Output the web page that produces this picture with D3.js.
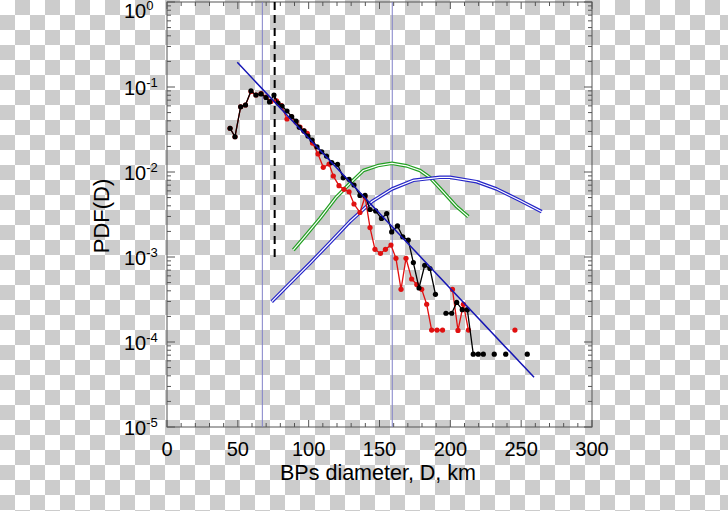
<!DOCTYPE html>
<html>
<head>
<meta charset="utf-8">
<script src="https://cdn.jsdelivr.net/npm/d3@7"></script>
<style>
  body { margin: 0; }
  svg { display: block; font-family: "Liberation Sans", Arial, sans-serif; }
</style>
</head>
<body>
<div class="container"></div>
<script>
// binned size distribution, black sample
var blackD = [44.5,48.0,52.0,55.4,59.3,62.8,66.4,69.9,72.4,75.5,78.4,81.2,84.7,88.0,91.1,93.4,96.7,99.5,102.4,105.9,
  109.2,112.6,116.3,120.4,124.4,128.5,132.0,136.2,139.8,143.3,147.3,151.4,155.1,158.6,162.7,166.4,170.3,173.9,177.9,181.9,
  185.6,189.5,193.2,196.9,201.0,204.5,208.4,212.0,216.2,219.7,223.3,227.0,231.0,235.0,239.1,243.0,254.3];
var blackPdf = [0.0327,0.026,0.0586,0.0614,0.0904,0.0805,0.0828,0.0752,0.0667,0.0805,0.0648,0.0598,0.0522,0.0448,0.0398,0.0336,0.0304,0.0265,0.0238,0.0197,
  0.0173,0.0154,0.0129,0.0123,0.00855,0.0082,0.00703,0.0053,0.0053,0.00362,0.00348,0.00284,0.00325,0.00197,0.00232,0.00173,0.00158,0.00086,0.000432,0.000798,
  0.000732,0.000364,null,0.000218,0.000218,0.000292,0.00024,0.00024,7.2e-5,7.2e-5,7.2e-5,null,7.2e-5,null,7.2e-5,null,7.2e-5];

// red sample
var redD = [44.5,48.0,52.0,55.4,59.3,62.8,66.4,69.9,73.4,77.3,80.8,84.7,87.9,91.1,93.9,96.7,99.0,102.7,106.6,110.3,
  114.4,117.4,121.4,124.9,128.5,132.0,136.2,139.8,143.3,146.8,150.7,154.2,158.1,161.6,165.2,168.7,172.7,176.3,179.8,183.3,
  186.8,190.6,194.5,198.2,201.5,205.4,209.2,212.8,216.5,242.0,245.6];
var redPdf = [0.0327,0.026,0.0586,0.0614,0.0885,0.0805,0.0839,0.0763,0.0676,0.0685,0.0606,0.042,0.0444,0.0388,0.0338,0.0304,0.0285,0.0219,0.0163,0.01136,
  0.0124,0.00897,0.0069,0.00625,0.00586,0.0042,0.00334,0.00512,0.00222,0.00123,0.0011,0.00123,0.00138,0.000966,0.000417,0.000966,0.000551,0.000474,0.000417,0.000278,
  0.000138,0.000138,0.000138,null,0.000415,0.000137,0.000278,0.000138,null,null,0.000138];

// exponential fit (straight blue line)
var fitD = [49.6, 259.1];
var fitPdf = [0.195, 3.84e-5];

// green model curve
var greenD = [89.2,96.2,108.0,119.8,129.2,138.6,148.9,158.8,169.2,178.6,185.6,192.7,204.5,212.7];
var greenPdf = [1.21e-3,1.66e-3,2.85e-3,5.12e-3,7.36e-3,0.0104,0.0119,0.01265,0.0118,0.0104,0.0086,0.00643,0.00391,0.00298];

// blue model curve
var blueD = [73.9,86.8,100.9,115.1,129.2,144.7,158.8,173.9,192.7,199.8,218.6,232.7,249.2,264.5];
var bluePdf = [2.98e-4,4.91e-4,8.43e-4,1.48e-3,2.62e-3,4.5e-3,6.31e-3,7.98e-3,8.66e-3,8.66e-3,7.69e-3,6.31e-3,4.62e-3,3.41e-3];

var vLines = [67.3, 159];
var cutD = 76;
var cutRange = [1, 1e-3];

var xTicks = [0, 50, 100, 150, 200, 250, 300];
var yExps = [0, -1, -2, -3, -4, -5];

var W = 728, H = 511;
var svg = d3.select('.container').append('svg').attr('width', W).attr('height', H);

// checkerboard like the transparent png background
var defs = svg.append('defs');
var pat = defs.append('pattern').attr('id', 'chk').attr('patternUnits', 'userSpaceOnUse')
  .attr('width', 30).attr('height', 30);
pat.append('rect').attr('width', 30).attr('height', 30).attr('fill', '#ffffff');
pat.append('rect').attr('x', 15).attr('width', 15).attr('height', 15).attr('fill', '#cccccc');
pat.append('rect').attr('y', 15).attr('width', 15).attr('height', 15).attr('fill', '#cccccc');
svg.append('rect').attr('width', W).attr('height', H).attr('fill', 'url(#chk)');

var x = d3.scaleLinear().domain([0, 300]).range([167, 592]);
var y = d3.scaleLog().domain([1e-5, 1]).range([427, 2]);

function zip(a, b) {
  var out = [];
  for (var i = 0; i < a.length; i++) out.push({d: a[i], p: b[i]});
  return out;
}

var line = d3.line()
  .defined(function(o) { return o.p != null; })
  .x(function(o) { return x(o.d); })
  .y(function(o) { return y(o.p); });

// frame
var x0 = x.range()[0], x1 = x.range()[1], y0 = y.range()[0], y1 = y.range()[1];
svg.append('rect').attr('x', x0).attr('y', y1).attr('width', x1 - x0).attr('height', y0 - y1)
  .attr('fill', 'none').attr('stroke', '#555').attr('stroke-width', 1);

var ticks = svg.append('g').attr('stroke', '#555').attr('stroke-width', 1);
// x ticks, bottom and top
for (var v = 0; v <= 300; v += 10) {
  var len = (v % 50 === 0) ? 7 : 4;
  ticks.append('line').attr('x1', x(v)).attr('x2', x(v)).attr('y1', y0).attr('y2', y0 - len);
  ticks.append('line').attr('x1', x(v)).attr('x2', x(v)).attr('y1', y1).attr('y2', y1 + len);
}
// y ticks, left and right
y.ticks().forEach(function(t) {
  var major = Math.abs(Math.log10(t) - Math.round(Math.log10(t))) < 1e-9;
  var len = major ? 8 : 4;
  ticks.append('line').attr('x1', x0).attr('x2', x0 + len).attr('y1', y(t)).attr('y2', y(t));
  ticks.append('line').attr('x1', x1).attr('x2', x1 - len).attr('y1', y(t)).attr('y2', y(t));
});

// x labels
svg.append('g').selectAll('text').data(xTicks).enter().append('text')
  .attr('x', function(d) { return x(d); })
  .attr('y', 455.5)
  .attr('text-anchor', 'middle')
  .attr('font-size', 20)
  .text(function(d) { return d; });

// y labels 10^n (top one pushed down so it stays on the page)
var yl = svg.append('g').selectAll('text').data(yExps).enter().append('text')
  .attr('x', 124)
  .attr('y', function(e) { return Math.max(y(Math.pow(10, e)), 9.5) + 8; })
  .attr('font-size', 20);
yl.append('tspan').text('10');
yl.append('tspan').attr('font-size', 13).attr('dy', -8).text(function(e) { return e; });

svg.append('text').attr('x', 378).attr('y', 480).attr('text-anchor', 'middle')
  .attr('font-size', 21.5).text('BPs diameter, D, km');
svg.append('text').attr('transform', 'translate(109,216) rotate(-90)').attr('text-anchor', 'middle')
  .attr('font-size', 22).text('PDF(D)');

// thin vertical markers
svg.append('g').selectAll('line').data(vLines).enter().append('line')
  .attr('x1', function(d) { return x(d); }).attr('x2', function(d) { return x(d); })
  .attr('y1', y1).attr('y2', y0)
  .attr('stroke', '#8080c8').attr('stroke-width', 1);

svg.append('line').attr('x1', x(cutD)).attr('x2', x(cutD))
  .attr('y1', y(cutRange[0])).attr('y2', y(cutRange[1]))
  .attr('stroke', '#000').attr('stroke-width', 2).attr('stroke-dasharray', '8,5');

// model curves drawn as double lines
function doubleLine(data, col) {
  svg.append('path').datum(data).attr('d', line).attr('fill', 'none')
    .attr('stroke', col).attr('stroke-width', 3.6).attr('stroke-linejoin', 'round');
  svg.append('path').datum(data).attr('d', line).attr('fill', 'none')
    .attr('stroke', '#fff').attr('stroke-width', 1.2).attr('stroke-linejoin', 'round');
}
doubleLine(zip(greenD, greenPdf), '#22a022');
doubleLine(zip(blueD, bluePdf), '#2626c8');

// data series
function series(data, col) {
  svg.append('path').datum(data).attr('d', line).attr('fill', 'none')
    .attr('stroke', col).attr('stroke-width', 1.3);
  svg.append('g').selectAll('circle').data(data.filter(function(o) { return o.p != null; }))
    .enter().append('circle')
    .attr('cx', function(o) { return x(o.d); })
    .attr('cy', function(o) { return y(o.p); })
    .attr('r', 2.6).attr('fill', col);
}
series(zip(redD, redPdf), '#e01010');
series(zip(blackD, blackPdf), '#000');

// exponential fit
svg.append('path').datum(zip(fitD, fitPdf)).attr('d', line).attr('fill', 'none')
  .attr('stroke', '#1414b4').attr('stroke-width', 1.5);
</script>
</body>
</html>
